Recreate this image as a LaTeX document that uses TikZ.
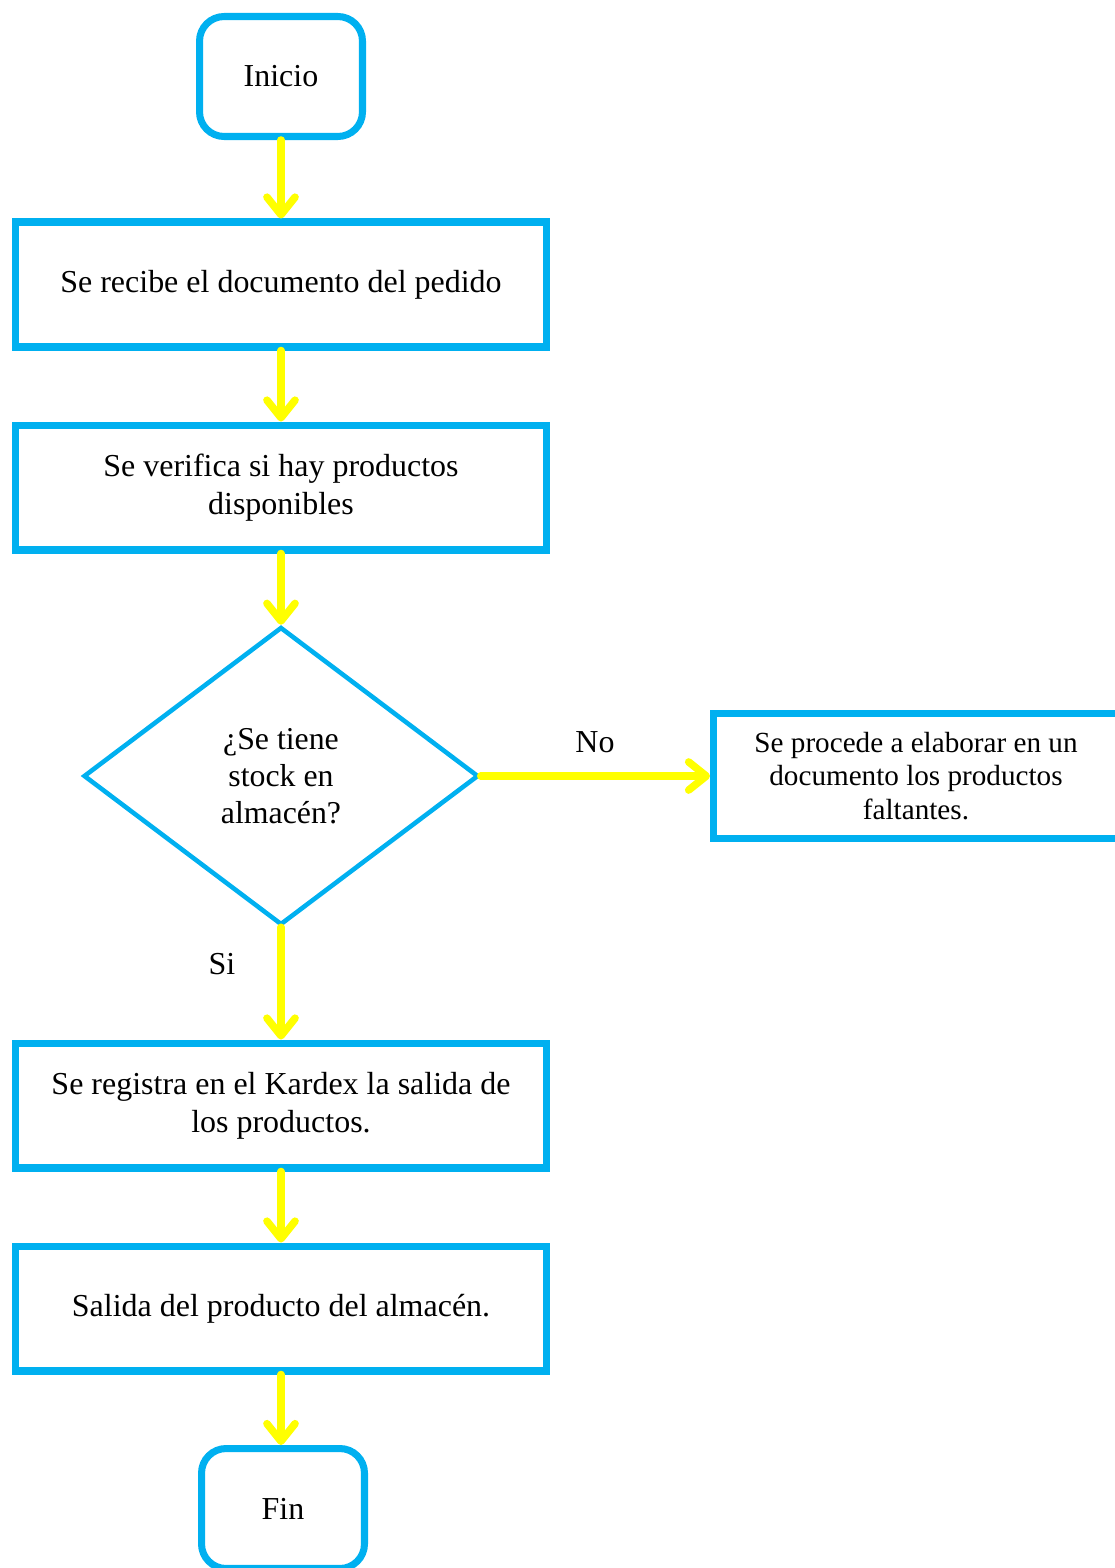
\documentclass[tikz,border=0pt]{standalone}
\usepackage{fontspec}
\setmainfont{Liberation Serif}
\usetikzlibrary{arrows.meta}
\usetikzlibrary{shapes.geometric}
\usetikzlibrary{positioning}

\definecolor{cielo}{RGB}{0,176,240}
\definecolor{amarillo}{RGB}{255,255,0}

\tikzset{
    terminal/.style={draw=cielo,line width=4pt,rounded corners=14pt,minimum width=3.26cm,minimum height=2.4cm,font=\fontsize{18.2}{21.5}\selectfont},
    proceso/.style={draw=cielo,line width=4pt,minimum width=10.64cm,minimum height=2.5cm,align=center,font=\fontsize{18.2}{21.5}\selectfont},
    decision/.style={draw=cielo,line width=2.6pt,diamond,minimum width=7.9cm,minimum height=5.96cm,inner sep=0pt,align=center,font=\fontsize{18.1}{21}\selectfont},
    flecha/.style={draw=amarillo,line width=4.3pt,line cap=round,-{Straight Barb[length=10pt,width=16pt,line cap=round,line join=round]}}
}

\begin{document}
\begin{tikzpicture}[x=0.02cm,y=-0.02cm]

    % page frame
    \useasboundingbox (0,0) rectangle (1115,1568);
    \clip (0,0) rectangle (1115,1568);

    % boxes
    \node[terminal] (inicio) at (281,76.5) {Inicio};
    \node[proceso] (recibe) at (281,284.5) {Se recibe el documento del pedido};
    \node[proceso] (verifica) at (281,487.5) {Se verifica si hay productos\\disponibles};
    \node[decision] (stock) at (281,776) {¿Se tiene\\stock en\\almacén?};
    \node[proceso,minimum width=8.1cm,font=\fontsize{16.6}{19.3}\selectfont] (faltantes) at (916,776) {Se procede a elaborar en un\\documento los productos\\faltantes.};
    \node[proceso] (kardex) at (281,1105.5) {Se registra en el Kardex la salida de\\los productos.};
    \node[proceso] (salida) at (281,1308.5) {Salida del producto del almacén.};
    \node[terminal] (fin) at (283,1508.5) {Fin};

    % labels
    \node[font=\fontsize{18.2}{21}\selectfont] (no) at (595,742) {No};
    \node[font=\fontsize{18.2}{21}\selectfont] (si) at (222,964) {Si};

    % arrows
    \draw[flecha] (inicio) -- (recibe);
    \draw[flecha] (recibe) -- (verifica);
    \draw[flecha] (verifica) -- (stock);
    \draw[flecha] (stock.east) -- (faltantes.west);
    \draw[flecha] (stock.south) -- (kardex.north);
    \draw[flecha] (kardex) -- (salida);
    \draw[flecha] (salida.south) -- (salida.south |- fin.north);

\end{tikzpicture}
\end{document}
